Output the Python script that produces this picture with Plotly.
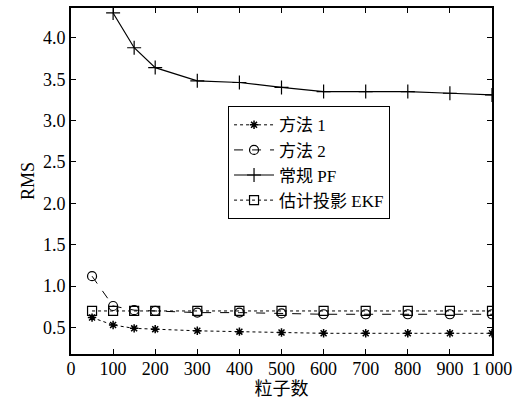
import plotly.graph_objects as go

x_pf = [100, 150, 200, 300, 400, 500, 600, 700, 800, 900, 1000]
pf = [4.30, 3.88, 3.64, 3.48, 3.46, 3.40, 3.35, 3.35, 3.35, 3.33, 3.31]

x_all = [50, 100, 150, 200, 300, 400, 500, 600, 700, 800, 900, 1000]
m1 = [0.62, 0.53, 0.49, 0.48, 0.46, 0.45, 0.44, 0.43, 0.43, 0.43, 0.43, 0.43]
m2 = [1.12, 0.76, 0.71, 0.70, 0.68, 0.68, 0.67, 0.66, 0.66, 0.66, 0.66, 0.66]
ekf = [0.70, 0.70, 0.70, 0.70, 0.70, 0.70, 0.70, 0.70, 0.70, 0.70, 0.70, 0.70]

names = ["方法 1", "方法 2", "常规 PF", "估计投影 EKF"]
xticks = [0, 100, 200, 300, 400, 500, 600, 700, 800, 900, 1000]
xticklabels = ["0", "100", "200", "300", "400", "500", "600", "700", "800", "900", "1 000"]
yticks = [0.5, 1.0, 1.5, 2.0, 2.5, 3.0, 3.5, 4.0]
yticklabels = ["0.5", "1.0", "1.5", "2.0", "2.5", "3.0", "3.5", "4.0"]

FONT = "Liberation Serif, Noto Sans CJK SC, serif"
FS = 18
fig = go.Figure()
fig.add_trace(go.Scatter(x=x_all, y=m1, name=names[0], mode="lines+markers",
                         line=dict(color="black", width=1, dash="dot"),
                         marker=dict(symbol="asterisk-open", size=7, color="black",
                                     line=dict(width=1.5, color="black"))))
fig.add_trace(go.Scatter(x=x_all, y=m2, name=names[1], mode="lines+markers",
                         line=dict(color="black", width=1, dash="dash"),
                         marker=dict(symbol="circle-open", size=9, color="black",
                                     line=dict(width=1.2, color="black"))))
fig.add_trace(go.Scatter(x=x_pf, y=pf, name=names[2], mode="lines+markers",
                         line=dict(color="black", width=1.2),
                         marker=dict(symbol="cross-thin-open", size=10, color="black",
                                     line=dict(width=1.2, color="black"))))
fig.add_trace(go.Scatter(x=x_all, y=ekf, name=names[3], mode="lines+markers",
                         line=dict(color="black", width=1, dash="dot"),
                         marker=dict(symbol="square-open", size=9, color="black",
                                     line=dict(width=1.2, color="black"))))

fig.update_layout(
    width=524, height=403,
    margin=dict(l=71, r=32, t=6, b=49),
    paper_bgcolor="white", plot_bgcolor="white",
    font=dict(family=FONT, size=FS, color="black"),
    showlegend=True,
    legend=dict(x=0.373, y=0.716, xanchor="left", yanchor="top",
                bordercolor="black", borderwidth=1, bgcolor="white",
                font=dict(family=FONT, size=17), tracegroupgap=0,
                itemwidth=40),
)
fig.update_xaxes(range=[0, 1000], tickmode="array", tickvals=xticks, ticktext=xticklabels,
                 ticks="inside", ticklen=5, tickcolor="black", mirror="ticks",
                 showline=True, linecolor="black", linewidth=2, showgrid=False,
                 zeroline=False, ticklabelstandoff=-3,
                 title=dict(text="粒子数", standoff=0,
                            font=dict(family=FONT, size=FS)))
fig.update_yaxes(range=[0.18, 4.36], tickmode="array", tickvals=yticks, ticktext=yticklabels,
                 ticks="inside", ticklen=5, tickcolor="black", mirror="ticks",
                 showline=True, linecolor="black", linewidth=2, showgrid=False,
                 zeroline=False, title=dict(text="RMS", standoff=4,
                                            font=dict(family=FONT, size=FS)))
fig.write_html("out.html")
